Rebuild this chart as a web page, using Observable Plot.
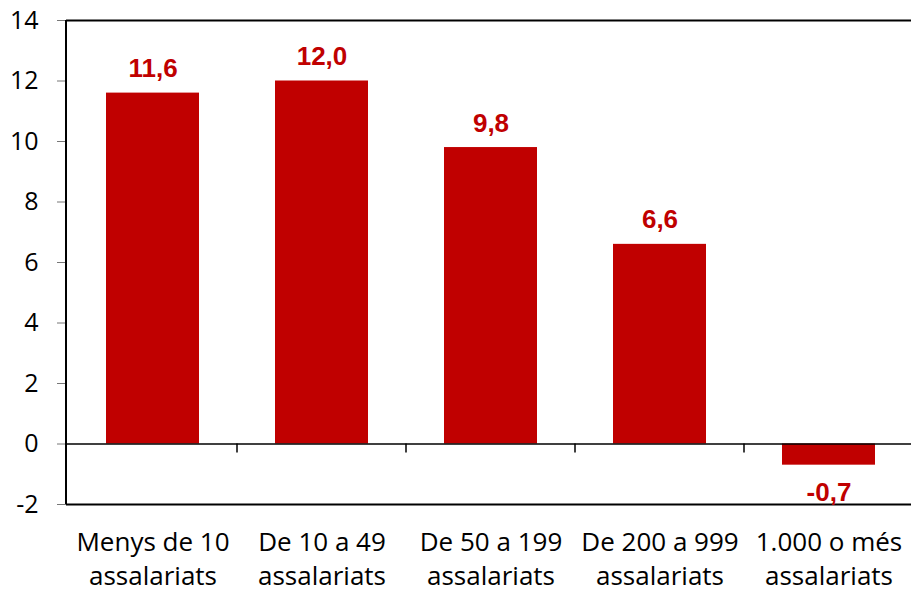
<!DOCTYPE html>
<html><head><meta charset="utf-8">
<script src="https://cdn.jsdelivr.net/npm/d3@7"></script>
<script src="https://cdn.jsdelivr.net/npm/@observablehq/plot@0.6"></script>
<style>html,body{margin:0;padding:0;background:#fff;overflow:hidden}svg{display:block}</style>
</head><body><div id="chart"></div>
<script>
const categories = ["Menys de 10\nassalariats", "De 10 a 49\nassalariats", "De 50 a 199\nassalariats", "De 200 a 999\nassalariats", "1.000 o més\nassalariats"];
const values = [11.6, 12.0, 9.8, 6.6, -0.7];
const yTicks = [-2, 0, 2, 4, 6, 8, 10, 12, 14];
const yDomain = [-2, 14];

const data = categories.map((c, i) => ({cat: c, value: values[i]}));
const fmt = v => v.toFixed(1).replace(".", ",");
const RED = "#C00000";

function frameLines(index, scales, vals, dims) {
  const {x, y} = scales;
  const g = d3.create("svg:g").attr("stroke", "black").attr("fill", "none");
  const x0 = dims.marginLeft;
  g.append("line").attr("x1", x0).attr("x2", x0)
    .attr("y1", y(yDomain[1])).attr("y2", y(yDomain[0])).attr("stroke-width", 2);
  let bw = typeof x.bandwidth === "function" ? x.bandwidth() : x.bandwidth;
  const step = x(categories[1]) - x(categories[0]);
  if (!(bw > 0)) bw = step * 0.55;
  const y0 = y(0);
  for (let i = 0; i < categories.length - 1; i++) {
    const bx = (x(categories[i]) + bw + x(categories[i + 1])) / 2;
    g.append("line").attr("x1", bx).attr("x2", bx)
      .attr("y1", y0).attr("y2", y0 + 9).attr("stroke-width", 1.5);
  }
  return g.node();
}

const chart = Plot.plot({
  width: 911,
  height: 591,
  marginLeft: 66,
  marginRight: -3,
  marginTop: 20,
  marginBottom: 87,
  style: {background: "#fff", overflow: "visible"},
  x: {domain: categories, paddingInner: 0.45, paddingOuter: 0.225, axis: null},
  y: {domain: yDomain, axis: null},
  marks: [
    Plot.barY(data, {x: "cat", y: "value", fill: RED}),
    Plot.ruleY([0], {stroke: "black", strokeWidth: 1.5}),
    Plot.ruleY([yDomain[1], yDomain[0]], {stroke: "black", strokeWidth: 2}),
    Plot.axisY({ticks: yTicks, tickSize: 9, tickPadding: 19, stroke: "#777", fill: "black",
      fontSize: 25, fontFamily: "Open Sans", tickFormat: d => String(d), label: null}),
    Plot.axisX({tickSize: 0, tickPadding: 22, fill: "black", fontSize: 26,
      fontFamily: "Open Sans", lineHeight: 1.31, label: null}),
    Plot.text(data.filter(d => d.value >= 0), {x: "cat", y: "value", text: d => fmt(d.value),
      lineAnchor: "bottom", dy: -16, fill: RED, fontSize: 26, fontWeight: "bold",
      fontFamily: "Liberation Sans, Arial, sans-serif"}),
    Plot.text(data.filter(d => d.value < 0), {x: "cat", y: "value", text: d => fmt(d.value),
      lineAnchor: "bottom", dy: 36, fill: RED, fontSize: 26, fontWeight: "bold",
      fontFamily: "Liberation Sans, Arial, sans-serif"}),
    frameLines
  ]
});
document.getElementById("chart").append(chart);
</script>
</body></html>
